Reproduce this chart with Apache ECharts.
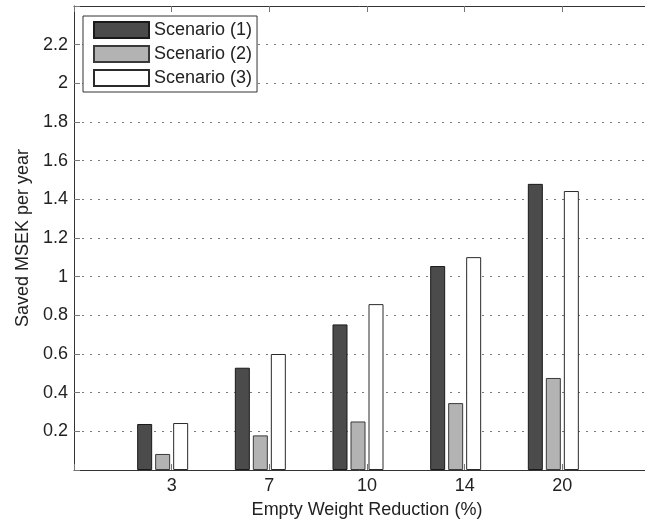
<!DOCTYPE html>
<html>
<head>
<meta charset="utf-8">
<script src="https://cdn.jsdelivr.net/npm/echarts@6/dist/echarts.min.js"></script>
<style>
  html, body { margin: 0; padding: 0; background: #fff; }
  #chart { width: 645px; height: 520px; }
</style>
</head>
<body>
<div id="chart"></div>
<script>
// empty weight reduction (%) categories
const categories = ['3', '7', '10', '14', '20'];
const scenario1 = [0.238, 0.529, 0.753, 1.055, 1.48];
const scenario2 = [0.083, 0.179, 0.251, 0.346, 0.476];
const scenario3 = [0.243, 0.600, 0.858, 1.101, 1.443];
// matlab plotted a 4th (empty) column, it shifts the groups left
const scenario4 = [0, 0, 0, 0, 0];
const yTicks = [0.2, 0.4, 0.6, 0.8, 1, 1.2, 1.4, 1.6, 1.8, 2, 2.2];

const FONT = 'Liberation Sans, Arial, sans-serif';

// pad with empty slots so the axis spans 0..6 like the matlab xlim
const xData = [''].concat(categories, ['']);
const pad = (arr) => [null].concat(arr, [null]);

var chart = echarts.init(document.getElementById('chart'), null, {renderer: 'canvas'});

function barSeries(name, data, fill, border) {
  return {
    name: name,
    type: 'bar',
    data: pad(data),
    barWidth: 15,
    barGap: '20%',
    itemStyle: {color: fill, borderColor: border, borderWidth: 1},
    emphasis: {disabled: true},
    animation: false
  };
}

let opts = {
  animation: false,
  backgroundColor: '#fff',
  // plot runs past the right edge, the original picture is cropped there
  grid: {left: 74, top: 6, width: 586, height: 464, containLabel: false, outerBoundsMode: 'none'},
  legend: {
    data: ['Scenario (1)', 'Scenario (2)', 'Scenario (3)'],
    orient: 'vertical',
    left: 83,
    top: 16,
    padding: [5, 5, 5, 10],
    itemWidth: 55,
    itemHeight: 16,
    itemGap: 6,
    backgroundColor: '#fff',
    borderColor: '#333',
    borderWidth: 1,
    textStyle: {fontFamily: FONT, fontSize: 18, color: '#222'},
    icon: 'rect'
  },
  xAxis: [
    {
      type: 'category',
      data: xData,
      boundaryGap: false,
      name: 'Empty Weight Reduction (%)',
      nameLocation: 'middle',
      nameGap: 31,
      nameTextStyle: {fontFamily: FONT, fontSize: 18, color: '#222'},
      axisLine: {lineStyle: {color: '#333', width: 1}},
      axisTick: {inside: true, length: 6, lineStyle: {color: '#777'}},
      axisLabel: {fontFamily: FONT, fontSize: 18, color: '#222', margin: 7, interval: 0},
      splitLine: {show: false}
    },
    {
      type: 'category',
      position: 'top',
      data: xData,
      boundaryGap: false,
      axisLine: {lineStyle: {color: '#333', width: 1}},
      axisTick: {inside: true, length: 6, lineStyle: {color: '#777'}},
      axisLabel: {show: false},
      splitLine: {show: false}
    }
  ],
  yAxis: {
    type: 'value',
    min: 0,
    max: 2.4,
    interval: 0.2,
    name: 'Saved MSEK per year',
    nameLocation: 'middle',
    nameGap: 40,
    nameTextStyle: {fontFamily: FONT, fontSize: 18, color: '#222'},
    axisLine: {show: true, lineStyle: {color: '#333', width: 1}},
    axisTick: {show: true, inside: true, length: 6, lineStyle: {color: '#777'}},
    axisLabel: {
      fontFamily: FONT, fontSize: 18, color: '#222', margin: 6,
      formatter: (v) => {
        let r = Math.round(v * 10) / 10;
        return yTicks.indexOf(r) >= 0 ? String(r) : '';
      }
    },
    splitLine: {
      show: true,
      lineStyle: {color: '#777', type: [2, 6], width: 1}
    }
  },
  series: [
    barSeries('Scenario (1)', scenario1, '#4b4b4b', '#1a1a1a'),
    barSeries('Scenario (2)', scenario2, '#b3b3b3', '#3a3a3a'),
    barSeries('Scenario (3)', scenario3, '#ffffff', '#2a2a2a'),
    {
      name: 'blank',
      type: 'bar',
      data: pad(scenario4),
      barWidth: 15,
      barGap: '20%',
      itemStyle: {color: 'rgba(0,0,0,0)', borderWidth: 0},
      animation: false
    }
  ]
};

chart.setOption(opts);
</script>
</body>
</html>
